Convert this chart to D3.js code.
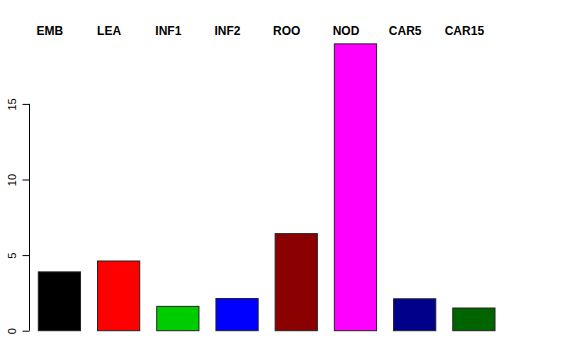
<!DOCTYPE html>
<html>
<head>
<meta charset="utf-8">
<script src="https://cdn.jsdelivr.net/npm/d3@7"></script>
<style>
  html, body { margin: 0; padding: 0; background: #fff; }
  svg { display: block; font-family: "Liberation Sans", Arial, Helvetica, sans-serif; }
</style>
</head>
<body>
<svg id="chart" width="576" height="360"></svg>
<script>
const categories = ["EMB", "LEA", "INF1", "INF2", "ROO", "NOD", "CAR5", "CAR15"];
const values = [3.89, 4.61, 1.61, 2.13, 6.42, 18.97, 2.11, 1.50];
const colors = ["#000000", "#FF0000", "#00CD00", "#0000FF", "#8B0000", "#FF00FF", "#00008B", "#006400"];
const yTicks = [0, 5, 10, 15];

const svg = d3.select("#chart");

const x = d3.scaleBand()
  .domain(categories)
  .range([38.3, 495])
  .paddingInner(0.287)
  .paddingOuter(0);

const y = d3.scaleLinear()
  .domain([0, 15])
  .range([330.7, 103.9]);

// Bars
svg.append("g")
  .selectAll("rect")
  .data(categories)
  .join("rect")
  .attr("x", d => x(d))
  .attr("y", (d, i) => y(values[i]))
  .attr("width", x.bandwidth())
  .attr("height", (d, i) => y(0) - y(values[i]))
  .attr("fill", (d, i) => colors[i])
  .attr("stroke", "#222")
  .attr("stroke-width", 1);

// Y axis
const axis = d3.axisLeft(y).tickValues(yTicks).tickSize(7).tickPadding(0).tickFormat(d3.format("d"));
const gAxis = svg.append("g")
  .attr("transform", "translate(29.5,0)")
  .call(axis);
gAxis.select(".domain").attr("stroke", "#000").attr("d", `M0,${y(0)}V${y(15)}`);
gAxis.selectAll(".tick line").attr("stroke", "#000");
gAxis.selectAll(".tick text")
  .attr("x", null)
  .attr("dy", null)
  .attr("transform", "translate(-13.5,0) rotate(-90)")
  .attr("text-anchor", "middle")
  .attr("fill", "#000")
  .style("font-family", "'Liberation Sans', Arial, sans-serif")
  .style("font-size", "11px");

// Category labels at top
svg.append("g")
  .selectAll("text")
  .data(categories)
  .join("text")
  .attr("x", d => x(d) + x.bandwidth() / 2 - 9.5)
  .attr("y", 35)
  .attr("text-anchor", "middle")
  .attr("font-weight", "bold")
  .attr("font-size", "12px")
  .attr("fill", "#000")
  .text(d => d);
</script>
</body>
</html>
